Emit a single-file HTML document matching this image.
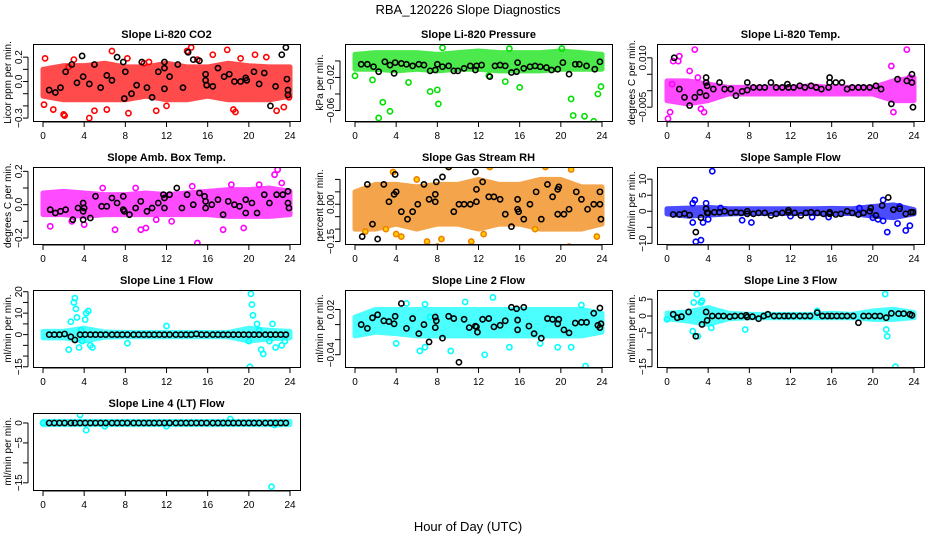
<!DOCTYPE html>
<html><head><meta charset="utf-8"><style>
body{margin:0;background:#fff}
svg{display:block;font-family:"Liberation Sans",sans-serif}
</style></head><body>
<svg id="c" width="936" height="540" viewBox="0 0 936 540">
<text x="468" y="14" text-anchor="middle" font-size="13">RBA_120226  Slope Diagnostics</text>
<text x="468" y="531" text-anchor="middle" font-size="13">Hour of Day (UTC)</text>
</svg>
<script>
const bandHours=[0,2,4,6,8,10,12,14,16,18,20,22,24];
const halfHours=[0.6,1.1,1.6,2.1,2.7,3.1,3.6,4.1,4.6,5.1,5.6,6.1,6.7,7.2,7.7,8.2,8.8,9.3,9.8,10.3,10.8,11.3,11.8,12.3,12.9,13.4,13.9,14.4,14.9,15.4,15.9,16.5,17,17.5,18,18.5,19,19.5,20,20.5,21,21.6,22.1,22.6,23.1,23.6];

// Panel 1 CO2
const co2Lo=[-0.12,-0.15,-0.15,-0.15,-0.15,-0.12,-0.15,-0.15,-0.12,-0.15,-0.15,-0.15,-0.12];
const co2Hi=[0.1,0.13,0.13,0.15,0.12,0.12,0.15,0.12,0.12,0.15,0.13,0.12,0.12];
const co2PtsX=[0.1,0.2,1,2,2.1,4.5,5,6.7,6.2,8.3,8.2,11,12,14,14.4,16.5,17.9,18.5,18.7,20.6,21.7,22.7,23.4,23.9,9.8,10.3,3,15,19.2,2.5];
const co2PtsY=[-0.19,0.19,-0.23,-0.27,-0.28,-0.3,-0.24,0.25,-0.23,-0.26,0.19,-0.24,-0.2,0.25,0.28,0.22,0.26,-0.23,-0.25,0.22,0.2,-0.24,-0.21,-0.13,0.15,0.16,0.18,0.18,0.19,0.12];
const co2BlkX=[0.6,1.2,1.7,2.2,2.8,3.3,3.8,3.9,4.5,5,5.6,6.2,6.7,7.2,7.8,7.9,8,8.6,9.1,9.6,10.1,10.6,11.2,11.8,11.8,11.8,12.3,13.1,13.6,14.1,14.6,15.2,15.8,15.8,15.9,16.5,17,17.6,18.1,18.6,19.2,19.7,19.8,20.5,21,21.5,22.1,22.6,23.2,23.6,23.7,23.8,23.8];
const co2BlkY=[-0.07,-0.09,-0.05,0.08,0.14,-0.01,0.21,0.04,-0.02,0.14,-0.05,0.05,0.01,0.2,0.16,-0.14,0.08,-0.1,-0.03,0.16,-0.05,-0.13,0.08,0.16,0.11,-0.06,0.04,0.14,-0.05,0.24,0.18,0.17,0.06,0.01,-0.03,-0.04,0.11,0.04,0.06,0,0,0.03,0.01,0.08,-0.02,0.07,-0.2,-0.04,0.22,0.28,0.02,-0.07,-0.11];

// Panel 2 Pressure
const presLo=[-0.01,-0.01,-0.012,-0.01,-0.012,-0.01,-0.01,-0.012,-0.012,-0.012,-0.01,-0.01,-0.01];
const presHi=[0.008,0.01,0.01,0.01,0.008,0.01,0.012,0.01,0.01,0.01,0.012,0.01,0.008];
const presPtsX=[0,1.7,2.3,2.7,3.4,5.2,7.3,8,8.1,8.5,14.6,16,15,20.1,21,21.2,22.3,23.2,23.6,23.9,13];
const presPtsY=[-0.018,-0.023,-0.069,-0.05,-0.061,-0.026,-0.037,-0.035,-0.052,0.016,-0.025,-0.032,0.015,0.015,-0.046,-0.066,-0.067,-0.073,-0.04,-0.031,-0.018];
const presBlkX=[0.6,1.2,1.8,2.3,2.9,3.4,3.8,3.9,4.5,5,5.6,6.2,6.7,7.3,7.8,8,8.5,9.1,9.6,10,10.6,11.2,11.7,11.8,12.3,13.1,13.6,14.1,14.6,15.2,15.7,15.8,16.4,17,17.5,18,18.6,19.1,19.7,20.2,20.8,21.4,21.8,22.5,23.3,23.8];
const presBlkY=[-0.004,-0.004,-0.007,-0.013,-0.001,-0.005,-0.015,-0.002,-0.003,-0.004,-0.006,-0.004,-0.005,-0.012,-0.011,-0.004,-0.007,-0.006,-0.012,-0.012,-0.009,-0.006,-0.011,-0.006,-0.005,-0.019,-0.006,-0.005,-0.006,-0.014,-0.013,-0.002,-0.009,-0.007,-0.006,-0.007,-0.008,-0.011,-0.01,-0.002,-0.016,-0.004,-0.004,-0.006,-0.01,-0.001];

// Panel 3 Li-820 Temp
const tempLo=[-0.003,-0.004,-0.003,-0.001,-0.001,-0.001,-0.001,-0.001,-0.001,-0.001,-0.001,-0.003,-0.003];
const tempHi=[0.003,0.003,0.002,0.001,0.001,0.001,0.001,0.0015,0.001,0.001,0.001,0.003,0.004];
const tempPtsX=[0.1,0.3,0.6,1.1,1.2,2.7,2.2,3.6,3.3,21.8,22,23.3,23.6,3,0.5];
const tempPtsY=[-0.0085,-0.0065,0.009,0.009,0.0105,0.0125,0.006,-0.0065,-0.0055,0.0075,-0.0065,0.0125,0.004,0.004,0.002];
const tempBlkX=[0.7,1.2,1.7,2.2,2.7,3.2,3.8,3.8,3.9,3.8,4.5,5.1,5.6,6.2,6.7,7.3,7.8,7.8,8.4,9,9.5,10.1,10.6,11.2,11.7,11.8,12.3,12.9,13.4,14,14.5,15,15.8,15.8,15.7,16.4,17,17.5,18,18.6,19.1,19.7,20.3,20.8,21.8,22.4,23.3,23.8,23.8,23.9];
const tempBlkY=[0.01,0.0005,-0.002,-0.0045,-0.002,-0.0005,0.004,0.0025,0.0015,-0.0015,0.0005,0.0025,0.0005,0.0005,-0.0015,-0.0002,0.0025,0.0002,0.001,0.001,0.001,0.0025,0.001,0.001,0.002,0.001,0.001,0.0015,0.001,0.0015,0.001,0.0005,0.004,0.0025,0.001,0.0025,0.0025,0.0005,0.001,0.001,0.001,0.001,0.0015,0.0005,-0.004,0.0035,0.003,0.005,0.0025,-0.005];

// Panel 4 Amb box temp
const ambLo=[-0.06,-0.06,-0.07,-0.06,-0.06,-0.06,-0.06,-0.06,-0.06,-0.07,-0.07,-0.07,-0.06];
const ambHi=[0.07,0.08,0.07,0.06,0.06,0.07,0.06,0.07,0.08,0.09,0.09,0.1,0.08];
const ambPtsX=[0.7,4,7,9.5,10,9,5.8,15,17.5,19.5,22.5,22.8,23.2,18.3,14.5,12.5,11,2.8,21];
const ambPtsY=[-0.13,-0.12,-0.15,-0.15,-0.14,0.1,0.1,-0.23,-0.15,-0.14,0.18,0.21,0.13,0.12,0.11,-0.1,-0.09,-0.1,0.12];
const ambBlkX=[0.7,1.2,1.7,2.2,2.9,3.4,3.9,3.9,3.9,4,4.6,5.1,5.7,6.2,6.7,7.2,7.8,7.8,7.9,8.4,9,9.5,10.1,10.6,11.2,11.7,11.8,11.8,12.3,13,13.5,14,14.6,15.2,15.7,15.8,15.8,16.4,17,17.5,18,18.6,19.1,19.7,19.7,20.3,20.8,21.5,22,22.7,23.3,23.8,23.8,23.9];
const ambBlkY=[-0.03,-0.05,-0.04,-0.03,-0.09,-0.02,0.01,-0.04,-0.09,-0.02,-0.08,0.05,-0.01,-0.01,0.04,0.01,0.05,-0.03,-0.04,-0.06,-0.02,0.02,-0.04,-0.02,0.01,0.06,0.04,-0.02,0.06,0.1,-0.02,0.06,0,0.07,0.05,0.02,-0.02,0,0.03,-0.06,0.02,0,-0.01,0.03,-0.05,0.01,-0.05,0.06,0.01,0.06,0.06,0.08,0.01,-0.02];

// Panel 5 Gas stream RH
const rhLo=[-0.1,-0.1,-0.08,-0.1,-0.08,-0.08,-0.1,-0.08,-0.08,-0.1,-0.1,-0.1,-0.08];
const rhHi=[0.05,0.08,0.08,0.07,0.08,0.08,0.1,0.08,0.08,0.1,0.1,0.07,0.07];
const rhPtsX=[3.7,4,4.5,5.5,6,7,8,8.4,9.1,11.3,12.5,12.6,13.1,18.5,20.8,21,23.5,1,17.5,3];
const rhPtsY=[0.13,-0.12,-0.13,-0.18,0.1,-0.15,-0.17,-0.14,0.15,-0.15,-0.12,0.16,0.15,0.15,-0.17,0.14,-0.13,-0.11,-0.1,-0.1];
const rhBlkX=[0.7,1.2,1.7,2.2,2.8,3.3,3.8,3.9,4,4.5,5.1,5.6,6.1,6.7,7.2,7.8,7.8,7.9,8.5,9.1,9.6,10.1,10.6,11.2,11.7,11.8,11.8,12.4,13,13.5,14.1,14.6,15.2,15.8,15.8,15.9,16.4,17,17.6,18.1,18.7,19.2,19.7,19.8,19.7,20.3,20.8,21.5,22,22.6,23.2,23.8,23.8,23.9];
const rhBlkY=[-0.13,0.08,-0.08,-0.14,0.08,0.01,0.04,0.12,0.05,-0.03,-0.06,-0.03,0,0.08,0.02,0.04,0.01,0.09,0.11,0.15,-0.03,0,0,0,0.13,0.06,0.01,0.09,0.03,0.03,0.02,-0.04,-0.09,0.02,-0.02,-0.03,-0.06,0,0.05,-0.06,0.08,0.03,0.06,0.07,-0.04,-0.04,-0.02,0.05,0.02,-0.02,0,0.05,0,-0.06];

// Panel 6 Sample flow
const sfLo=[-0.8,-1.5,-1.2,-0.8,-0.7,-0.7,-0.7,-0.7,-0.7,-0.7,-1.5,-2,-0.8];
const sfHi=[0.8,1,1.2,0.8,0.8,0.8,0.8,0.8,0.9,0.8,1.5,2,0.5];
const sfPtsX=[2.5,2.5,2.7,2.8,3.3,3.5,3.8,4,4.4,5.2,7.3,8.2,20,20.5,21,21,21.4,22.4,22.6,23.2,23.6,14.1,15.7,12,18.7];
const sfPtsY=[-3.5,2.5,3.5,-9.5,-9,-3.5,2.5,-2.5,12.5,1,-2.8,-3.5,-2,-2.5,-3,3.5,-6.5,-3.8,1.5,-6,-4.5,-1.8,-1.8,-1.5,1];
const sfBlkX=[0.6,1.2,1.7,2.2,2.8,3.3,3.8,3.9,4,4.6,5.1,5.6,6.2,6.7,7.2,7.8,7.8,8.4,8.9,9.5,10.1,10.6,11.2,11.8,11.8,12.4,13,13.5,14,14.6,15.2,15.8,15.8,16.4,16.9,17.5,18,18.6,19.1,19.7,19.8,20.3,20.9,21.5,22,22.6,23.2,23.7,23.9];
const sfBlkY=[-1,-1,-0.7,-1.2,-6.5,-2,0.8,-0.5,-0.5,-0.3,-0.3,0,-0.5,-0.3,-0.5,0,-0.8,-0.8,-0.5,-0.5,-1.3,-0.8,-0.5,0.3,-0.3,-0.5,-1.3,-0.5,-0.3,-0.5,-0.8,-0.3,-0.8,-1,-0.8,0,-0.5,-1,-0.5,0,1,-1.3,1.8,4.3,0.5,0.8,-0.8,-0.3,-0.3];

// Panel 7 Line 1 flow
const l1Lo=[-1.5,-1.5,-3,-1.2,-1,-1,-1,-1,-1,-1,-3,-2,-1.5];
const l1Hi=[1.5,1.5,3,1.2,1,1,1,1,1,1,3,2,1.5];
const l1PtsX=[2.5,2.7,3,3.1,3.2,3.3,3.5,3.7,3.8,4.1,4.2,4.4,4.6,4.8,8.2,12,20,20.1,20.2,20.3,20.4,20.8,21,21.2,21.4,22,22.3,22.6,23.2,23.5];
const l1PtsY=[-7,6,15,17,12,8,-6,2,-3,7,10,11,-5,-6,-4,4,-3,-15,19,14,9,5,2,-7,-9,-3,5,-6,-5,-3];
const l1BlkY=[0,0,0,0.3,-1,-2.5,0,0,0,0,0,0,0,0,0,0,0,0,0,0,0,0,0,0,0,0,0,0,0.3,0,0,0,0,0,0,0,0,0,0,0,0,0,0,0,0,0];

// Panel 8 Line 2 flow
const l2Lo=[-0.015,-0.01,-0.012,-0.015,-0.015,-0.015,-0.015,-0.015,-0.015,-0.015,-0.015,-0.015,-0.01];
const l2Hi=[0.01,0.02,0.02,0.02,0.02,0.02,0.02,0.02,0.02,0.02,0.02,0.02,0.015];
const l2PtsX=[4,6.3,6.8,7.3,9.3,10.7,12.6,13.4,15,19.7,21,22.4,5,6.8,18,22];
const l2PtsY=[-0.025,-0.035,-0.03,0.01,-0.035,0.03,-0.04,0.036,-0.03,-0.03,-0.03,-0.055,0.028,0.027,-0.025,0.026];
const l2BlkX=[0.6,1.2,1.7,2.2,2.8,3.3,3.8,3.9,4.5,5,5.6,6.2,6.7,7.2,7.8,7.8,7.9,8.5,9.1,9.6,10.1,10.6,11.1,11.7,11.8,11.9,12.4,13,13.5,14.1,14.6,15.2,15.7,15.8,15.8,16.4,16.9,17.4,18.1,18.7,19.2,19.7,19.8,20.3,20.8,21.4,22,22.5,23.2,23.6,23.8,23.8,23.9];
const l2BlkY=[0,-0.005,0.009,0.013,0.005,0.004,0.001,0.011,0.028,-0.005,0.008,-0.012,0,-0.023,0.01,-0.004,0.005,-0.018,0.011,0.008,-0.05,0.007,-0.004,-0.002,-0.003,-0.01,0.007,0.008,-0.003,-0.001,0.005,0.023,0.021,0.006,-0.007,0.023,-0.002,-0.012,-0.018,0.008,0.007,0.001,0.007,-0.007,-0.011,0.002,0.003,0.003,0.015,-0.001,-0.004,0.022,0.001];

// Panel 9 Line 3 flow
const l3Lo=[-0.8,-1.5,-2.5,-0.8,-0.5,-0.5,-0.5,-0.5,-0.5,-0.5,-1,-1,-0.5];
const l3Hi=[0.8,1.2,2.5,0.8,0.5,0.5,0.5,0.5,0.8,0.5,1.5,2,1];
const l3PtsX=[2.5,2.6,2.9,3.3,3.4,4.3,7.6,14.6,21.2,21.3,21.4,22.2,3,0];
const l3PtsY=[-4.5,4,6.5,4,4.5,-3.5,-4,1.5,6.5,-4,-6,-15,-6,-1];
const l3BlkX=[0.6,1,1.4,2.1,2.8,3.4,3.8,3.9,4.4,5,5.5,6.1,6.6,7.2,7.7,7.8,8.3,8.9,9.4,9.8,10.4,10.9,11.4,11.8,12.3,12.9,13.4,13.9,14.6,15.1,15.6,16,16.5,17,17.5,18.1,18.6,19.1,19.6,20.2,20.7,21.3,21.8,22.5,23,23.6,23.8];
const l3BlkY=[0.5,-0.5,-0.2,1.2,-6,-2.5,1.2,-1.3,0,0,0,-0.2,0,0,0.2,-0.3,-0.2,-0.8,0,0.5,0,0,0,0,0,0,0,0,1,0,0,0,0,0,0,0,-2,0,0,0,0,-0.5,0.8,0.7,0.7,0.5,0.2];

// Panel 10 Line 4 flow
const l4Lo=[-0.4,-0.4,-0.4,-0.4,-0.4,-0.4,-0.4,-0.4,-0.4,-0.4,-0.4,-0.4,-0.4];
const l4Hi=[0.4,0.4,0.4,0.4,0.4,0.4,0.4,0.4,0.4,0.4,0.4,0.4,0.4];
const l4PtsX=[0,3.6,4.2,6,12,18.2,22.2,22.5];
const l4PtsY=[0,2,-1.8,-0.8,-0.8,1,-16,-0.5];
const l4BlkY=[0,0,0,0,0,0,0,0,0,0,0,0,0,0,0,0,0,0,0,0,0,0,0,0,0,0,0,0,0,0,0,0,0,0,0,0,0,0,0,0,0,0,0,0,0,0];

const xTicks=[0,4,8,12,16,20,24];

const panels=[
 {name:'co2',title:'Slope Li-820 CO2',ylab:'Licor ppm per min.',col:0,row:0,ymin:-0.324,ymax:0.308,ticks:[-0.3,-0.2,-0.1,0,0.1,0.2],labels:{'-0.3':'-0.3','0':'0.0','0.2':'0.2'},color:'#ff0000',lo:co2Lo,hi:co2Hi,px:co2PtsX,py:co2PtsY,bx:co2BlkX,by:co2BlkY},
 {name:'pressure',title:'Slope Li-820 Pressure',ylab:'kPa per min.',col:1,row:0,ymin:-0.0727,ymax:0.0205,ticks:[-0.06,-0.04,-0.02,0],labels:{'-0.06':'-0.06','-0.02':'-0.02'},color:'#00e000',lo:presLo,hi:presHi,px:presPtsX,py:presPtsY,bx:presBlkX,by:presBlkY},
 {name:'li820-temp',title:'Slope Li-820 Temp.',ylab:'degrees C per min.',col:2,row:0,ymin:-0.0092,ymax:0.0142,ticks:[-0.005,0,0.005,0.01],labels:{'-0.005':'-0.005','0.01':'0.010'},color:'#ff00ff',lo:tempLo,hi:tempHi,px:tempPtsX,py:tempPtsY,bx:tempBlkX,by:tempBlkY},
 {name:'amb-box-temp',title:'Slope Amb. Box Temp.',ylab:'degrees C per min.',col:0,row:1,ymin:-0.236,ymax:0.226,ticks:[-0.2,-0.1,0,0.1,0.2],labels:{'-0.2':'-0.2','0':'0.0','0.2':'0.2'},color:'#ff00ff',lo:ambLo,hi:ambHi,px:ambPtsX,py:ambPtsY,bx:ambBlkX,by:ambBlkY},
 {name:'gas-stream-rh',title:'Slope Gas Stream RH',ylab:'percent per min.',col:1,row:1,ymin:-0.16,ymax:0.15,ticks:[-0.15,-0.1,-0.05,0,0.05,0.1],labels:{'-0.15':'-0.15','0':'0.00'},color:'#f08000',lo:rhLo,hi:rhHi,px:rhPtsX,py:rhPtsY,bx:rhBlkX,by:rhBlkY,ptColor:'#ffd000'},
 {name:'sample-flow',title:'Slope Sample Flow',ylab:'ml/min per min.',col:2,row:1,ymin:-10.2,ymax:13.8,ticks:[-10,-5,0,5,10],labels:{'-10':'-10','0':'0','5':'5','10':'10'},color:'#0000ff',lo:sfLo,hi:sfHi,px:sfPtsX,py:sfPtsY,bx:sfBlkX,by:sfBlkY},
 {name:'line1-flow',title:'Slope Line 1 Flow',ylab:'ml/min per min.',col:0,row:2,ymin:-15.1,ymax:20.8,ticks:[-15,-10,-5,0,5,10,15,20],labels:{'-15':'-15','0':'0','10':'10','20':'20'},color:'#00ffff',lo:l1Lo,hi:l1Hi,px:l1PtsX,py:l1PtsY,bx:halfHours,by:l1BlkY},
 {name:'line2-flow',title:'Slope Line 2 Flow',ylab:'ml/min per min.',col:1,row:2,ymin:-0.0563,ymax:0.0459,ticks:[-0.04,-0.02,0,0.02],labels:{'-0.04':'-0.04','0.02':'0.02'},color:'#00ffff',lo:l2Lo,hi:l2Hi,px:l2PtsX,py:l2PtsY,bx:l2BlkX,by:l2BlkY},
 {name:'line3-flow',title:'Slope Line 3 Flow',ylab:'ml/min per min.',col:2,row:2,ymin:-15.1,ymax:7.7,ticks:[-15,-10,-5,0,5],labels:{'-15':'-15','-5':'-5','0':'0','5':'5'},color:'#00ffff',lo:l3Lo,hi:l3Hi,px:l3PtsX,py:l3PtsY,bx:l3BlkX,by:l3BlkY},
 {name:'line4-flow',title:'Slope Line 4 (LT) Flow',ylab:'ml/min per min.',col:0,row:3,ymin:-16.8,ymax:2.5,ticks:[-15,-10,-5,0],labels:{'-15':'-15','-5':'-5','0':'0'},color:'#00ffff',lo:l4Lo,hi:l4Hi,px:l4PtsX,py:l4PtsY,bx:halfHours,by:l4BlkY}
];

const NS='http://www.w3.org/2000/svg';
const svg=document.getElementById('c');
function mk(tag,attrs,parent){const e=document.createElementNS(NS,tag);for(const k in attrs)e.setAttribute(k,attrs[k]);parent.appendChild(e);return e;}

panels.forEach(p=>{
 const L=33+p.col*312, R=L+267, T=44+p.row*123, B=T+77;
 const xs=h=>L+10+h*(247/24);
 const ys=v=>B-(v-p.ymin)/(p.ymax-p.ymin)*(B-T);
 const g=mk('g',{},svg);
 
 
 const clipId='clip'+p.name;
 const cp=mk('clipPath',{id:clipId},g);
 mk('rect',{x:L,y:T,width:R-L,height:B-T},cp);
 const t=mk('text',{x:(L+R)/2,y:T-6,'text-anchor':'middle','font-size':'11','font-weight':'bold'},g);
 t.textContent=p.title;
 
 
 const yl=mk('text',{x:0,y:0,transform:`translate(${L-22},${(T+B)/2}) rotate(-90)`,'text-anchor':'middle','font-size':'10'},g);
 yl.textContent=p.ylab;
 
 
 const plot=mk('g',{'clip-path':`url(#${clipId})`},g);
 
 
 let d='';
 bandHours.forEach((h,i)=>{d+=(i?'L':'M')+xs(h)+','+ys(p.hi[i]);});
 for(let i=bandHours.length-1;i>=0;i--)d+='L'+xs(bandHours[i])+','+ys(p.lo[i]);
 const band=mk('path',{d:d+'Z',fill:p.color,stroke:p.color,'stroke-width':'5','stroke-linejoin':'round',opacity:'0.7'},plot);
 
 
 p.px.forEach((h,i)=>{
  const c=mk('circle',{cx:xs(h),cy:ys(p.py[i]),r:2.6,fill:p.ptColor||'none',stroke:p.color,'stroke-width':'1.6'},plot);
  
  
 });
 p.bx.forEach((h,i)=>{
  const c=mk('circle',{cx:xs(h),cy:ys(p.by[i]),r:2.6,fill:'none',stroke:'#000','stroke-width':'1.6'},plot);
  
  
 });
 const box=mk('rect',{x:L+0.5,y:T+0.5,width:R-L,height:B-T,fill:'none',stroke:'#000','stroke-width':'1'},g);
 
 
 xTicks.forEach(h=>{
  mk('line',{x1:xs(h),x2:xs(h),y1:B+1,y2:B+6,stroke:'#000'},g);
  const tx=mk('text',{x:xs(h),y:B+18,'text-anchor':'middle','font-size':'10'},g);
  tx.textContent=h;
  
  
 });
 mk('line',{x1:xs(0),x2:xs(24),y1:B+1,y2:B+1,stroke:'#000'},g);
 const tks=p.ticks;
 mk('line',{x1:L-5,x2:L-5,y1:ys(tks[0]),y2:ys(tks[tks.length-1]),stroke:'#000'},g);
 tks.forEach(v=>{
  mk('line',{x1:L-10,x2:L-5,y1:ys(v),y2:ys(v),stroke:'#000'},g);
  const lab=p.labels[String(v)];
  if(lab!==undefined){
   const ty=mk('text',{x:0,y:0,transform:`translate(${L-11},${ys(v)}) rotate(-90)`,'text-anchor':'middle','font-size':'10'},g);
   ty.textContent=lab.replace('-','\u2212');
   
   
  }
 });
});
</script>
</body></html>
